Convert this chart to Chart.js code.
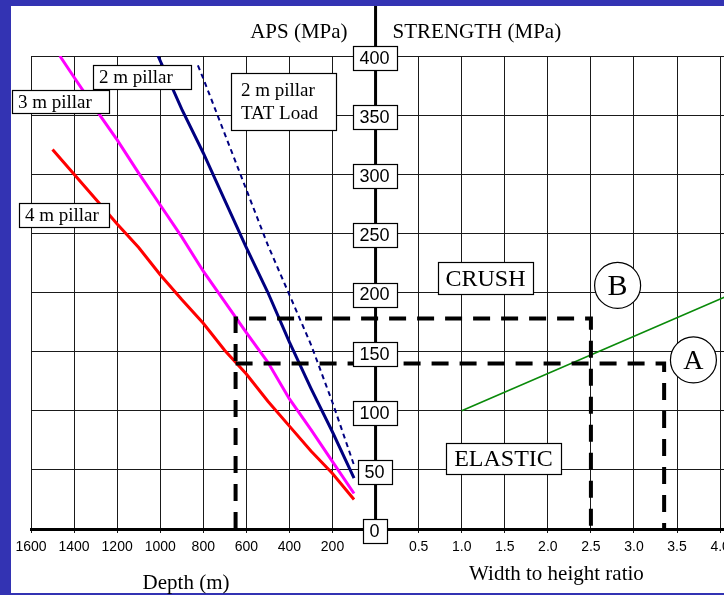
<!DOCTYPE html>
<html>
<head>
<meta charset="utf-8">
<script src="https://cdn.jsdelivr.net/npm/chart.js@4.4.1/dist/chart.umd.min.js"></script>
<style>
  html, body { margin: 0; padding: 0; background: #3333b3; }
  canvas { display: block; }
</style>
</head>
<body>
<canvas id="chart" width="724" height="595"></canvas>
<script>
// Left half: average pillar stress (APS) against depth; right half: pillar strength against width/height ratio.
const depthTicks  = [1600, 1400, 1200, 1000, 800, 600, 400, 200];
const ratioTicks  = [0.5, 1.0, 1.5, 2.0, 2.5, 3.0, 3.5, 4.0];
const stressTicks = [0, 50, 100, 150, 200, 250, 300, 350, 400];

// APS (MPa) by depth (m)
const pillar4Depth = [1500, 1400, 1300, 1200, 1100, 1000, 900, 800, 700, 600, 500, 400, 300, 200, 100];
const pillar4Aps   = [321, 300, 279, 258, 238, 215, 194, 174, 151, 131, 108, 87, 66, 47, 25];

const pillar3Depth = [1466, 1400, 1300, 1200, 1100, 1000, 900, 800, 700, 600, 500, 400, 300, 200, 100];
const pillar3Aps   = [400, 382, 355, 329, 301, 274, 247, 218, 192, 166, 141, 110, 84, 57, 30];

const pillar2Depth = [1010, 900, 800, 700, 600, 500, 400, 300, 200, 100];
const pillar2Aps   = [400, 355, 318, 278, 238, 200, 158, 119, 82, 43];

const tatDepth = [825, 800, 700, 600, 500, 400, 300, 200, 100];
const tatAps   = [392, 381, 334, 287, 240, 198, 156, 107, 54];

// Strength (MPa) by width to height ratio
const strengthRatio = [1.0, 4.05];
const strengthMPa   = [100, 196];

// Worked cases at 650 m: B (3 m pillar) and A (4 m pillar)
const caseDepth  = 650;
const caseStress = [178, 140];
const caseRatio  = [2.5, 3.35];

// One shared horizontal axis: depth to the left of zero, ratio to the right.
const RATIO_UNIT = 400;
const dx = d => -d;
const rx = r => r * RATIO_UNIT;

const depthSeries = (depths, values) => depths.map((d, i) => ({ x: dx(d), y: values[i] }));

const caseB = [
  { x: dx(caseDepth), y: 0 }, { x: dx(caseDepth), y: caseStress[0] },
  { x: rx(caseRatio[0]), y: caseStress[0] }, { x: rx(caseRatio[0]), y: 0 }
];
const caseA = [
  { x: dx(caseDepth), y: caseStress[1] },
  { x: rx(caseRatio[1]), y: caseStress[1] }, { x: rx(caseRatio[1]), y: 0 }
];

const SANS = '"Liberation Sans", Arial, sans-serif';
const SERIF = '"Liberation Serif", "Times New Roman", serif';

const notes = [
  { lines: ['2 m pillar'], x: dx(1312), y: 392, w: 98, h: 24, size: 19, align: 'left', pad: 6 },
  { lines: ['3 m pillar'], x: dx(1688), y: 371, w: 97, h: 23, size: 19, align: 'left', pad: 6 },
  { lines: ['4 m pillar'], x: dx(1656), y: 276, w: 90, h: 24, size: 19, align: 'left', pad: 6 },
  { lines: ['2 m pillar', 'TAT Load'], x: dx(671), y: 386, w: 105, h: 57, size: 19, align: 'left', pad: 10 },
  { lines: ['CRUSH'], x: rx(0.725), y: 226, w: 95, h: 32, size: 24, align: 'center', pad: 0 },
  { lines: ['ELASTIC'], x: rx(0.817), y: 72.7, w: 115, h: 31, size: 24, align: 'center', pad: 0 }
];
const circles = [
  { text: 'B', x: rx(2.81), y: 206, r: 23, size: 30 },
  { text: 'A', x: rx(3.69), y: 143, r: 23, size: 28 }
];

const decor = {
  id: 'decor',
  beforeDraw(chart) {
    const ctx = chart.ctx;
    ctx.save();
    ctx.fillStyle = '#3333b3';
    ctx.fillRect(0, 0, chart.width, chart.height);
    ctx.fillStyle = '#ffffff';
    ctx.fillRect(11, 6, chart.width - 11, 587);
    ctx.restore();
  },
  afterDraw(chart) {
    const ctx = chart.ctx;
    const xs = chart.scales.x, ys = chart.scales.y;
    const px = v => xs.getPixelForValue(v);
    const py = v => ys.getPixelForValue(v);
    const x0 = px(0);
    ctx.save();

    // central stress/strength axis
    ctx.strokeStyle = '#000';
    ctx.lineWidth = 3;
    ctx.beginPath();
    ctx.moveTo(x0, 6);
    ctx.lineTo(x0, py(0));
    ctx.stroke();

    // boxed stress values on the central axis
    ctx.font = '18px ' + SANS;
    ctx.textAlign = 'center';
    ctx.textBaseline = 'middle';
    stressTicks.forEach(v => {
      const tw = ctx.measureText(String(v)).width;
      const w = Math.round(tw + 14), h = 24;
      const cx = x0 - 1, cy = py(v) + 2;
      const bx = Math.round(cx - w / 2), by = Math.round(cy - h / 2);
      ctx.fillStyle = '#fff';
      ctx.fillRect(bx, by, w, h);
      ctx.strokeStyle = '#000';
      ctx.lineWidth = 1.2;
      ctx.strokeRect(bx + 0.5, by + 0.5, w, h);
      ctx.fillStyle = '#000';
      ctx.fillText(String(v), cx, cy + 1);
    });

    // text boxes
    notes.forEach(n => {
      const bx = Math.round(px(n.x)), by = Math.round(py(n.y));
      ctx.fillStyle = '#fff';
      ctx.fillRect(bx, by, n.w, n.h);
      ctx.strokeStyle = '#000';
      ctx.lineWidth = 1.2;
      ctx.strokeRect(bx + 0.5, by + 0.5, n.w, n.h);
      ctx.fillStyle = '#000';
      ctx.font = n.size + 'px ' + SERIF;
      ctx.textBaseline = 'alphabetic';
      ctx.textAlign = n.align;
      const tx = n.align === 'left' ? bx + n.pad : bx + n.w / 2;
      const lh = 23;
      const first = by + n.h / 2 - (n.lines.length - 1) * lh / 2 + n.size * 0.33;
      n.lines.forEach((t, i) => ctx.fillText(t, tx, first + i * lh));
    });

    // circled case letters
    circles.forEach(c => {
      const cx = px(c.x), cy = py(c.y);
      ctx.beginPath();
      ctx.arc(cx, cy, c.r, 0, Math.PI * 2);
      ctx.fillStyle = '#fff';
      ctx.fill();
      ctx.strokeStyle = '#000';
      ctx.lineWidth = 1.2;
      ctx.stroke();
      ctx.fillStyle = '#000';
      ctx.font = c.size + 'px ' + SERIF;
      ctx.textAlign = 'center';
      ctx.textBaseline = 'alphabetic';
      ctx.fillText(c.text, cx, cy + c.size * 0.33);
    });

    // axis titles
    ctx.fillStyle = '#000';
    ctx.font = '21px ' + SERIF;
    ctx.textBaseline = 'alphabetic';
    ctx.textAlign = 'right';
    ctx.fillText('APS (MPa)', x0 - 28, 38);
    ctx.textAlign = 'left';
    ctx.fillText('STRENGTH (MPa)', x0 + 17, 38);
    ctx.textAlign = 'center';
    ctx.fillText('Depth (m)', px(dx(880)), 589);
    ctx.fillText('Width to height ratio', px(rx(2.1)), 580);
    ctx.restore();
  }
};

const lineDefaults = { showLine: true, pointRadius: 0, pointHoverRadius: 0, fill: false, tension: 0 };

new Chart(document.getElementById('chart'), {
  type: 'scatter',
  data: {
    datasets: [
      { ...lineDefaults, label: 'Case B', data: caseB, borderColor: '#000', borderWidth: 4, borderDash: [17, 11], order: 0 },
      { ...lineDefaults, label: 'Case A', data: caseA, borderColor: '#000', borderWidth: 4, borderDash: [17, 11], order: 0 },
      { ...lineDefaults, label: '4 m pillar', data: depthSeries(pillar4Depth, pillar4Aps), borderColor: '#ff0000', borderWidth: 3, order: 1 },
      { ...lineDefaults, label: '3 m pillar', data: depthSeries(pillar3Depth, pillar3Aps), borderColor: '#ff00ff', borderWidth: 3, order: 1 },
      { ...lineDefaults, label: '2 m pillar', data: depthSeries(pillar2Depth, pillar2Aps), borderColor: '#000080', borderWidth: 3, order: 1 },
      { ...lineDefaults, label: '2 m pillar TAT Load', data: depthSeries(tatDepth, tatAps), borderColor: '#000080', borderWidth: 2, borderDash: [5, 4], order: 1 },
      { ...lineDefaults, label: 'Strength', data: strengthRatio.map((r, i) => ({ x: rx(r), y: strengthMPa[i] })), borderColor: '#0a8a0a', borderWidth: 1.6, order: 1 }
    ]
  },
  options: {
    responsive: false,
    animation: false,
    events: [],
    layout: { padding: { left: 31, top: 56, right: 0, bottom: 0 } },
    plugins: { legend: { display: false }, tooltip: { enabled: false } },
    scales: {
      x: {
        type: 'linear',
        min: dx(1600),
        max: rx(4.045),
        afterBuildTicks: s => {
          s.ticks = [...depthTicks.map(d => ({ value: dx(d) })), { value: 0 }, ...ratioTicks.map(r => ({ value: rx(r) }))];
        },
        ticks: {
          autoSkip: false, maxRotation: 0, minRotation: 0, padding: 6, color: '#000',
          font: { family: SANS, size: 14 },
          callback: v => v < 0 ? String(-v) : (v === 0 ? '' : (v / RATIO_UNIT).toFixed(1))
        },
        grid: { color: '#1a1a1a', lineWidth: 1, tickLength: 4, drawTicks: true },
        border: { display: true, color: '#000', width: 3 },
        afterFit: s => { s.height = 66; s.paddingLeft = 0; s.paddingRight = 0; }
      },
      y: {
        type: 'linear',
        min: 0,
        max: 400,
        afterBuildTicks: s => { s.ticks = stressTicks.map(v => ({ value: v })); },
        ticks: { display: false },
        grid: { color: '#1a1a1a', lineWidth: 1, drawTicks: false },
        border: { display: false },
        afterFit: s => { s.width = 0; s.paddingTop = 0; s.paddingBottom = 0; }
      }
    }
  },
  plugins: [decor]
});
</script>
</body>
</html>
